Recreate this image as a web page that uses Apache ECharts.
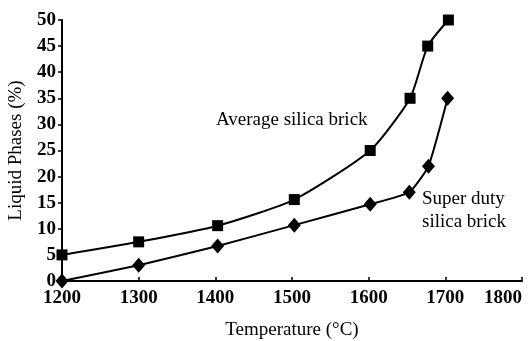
<!DOCTYPE html>
<html>
<head>
<meta charset="utf-8">
<script src="https://cdn.jsdelivr.net/npm/echarts@6/dist/echarts.min.js"></script>
<style>
html,body{margin:0;padding:0;background:#fff;}
#c{width:531px;height:341px;}
</style>
</head>
<body>
<div id="c"></div>
<script>
const avgTemps = [1200, 1300, 1403, 1503, 1602, 1654, 1677, 1704];
const avgValues = [5, 7.5, 10.6, 15.6, 25, 35, 45, 50];
const superTemps = [1200, 1300, 1403, 1503, 1602, 1653, 1678, 1703];
const superValues = [0, 3, 6.7, 10.7, 14.7, 17, 22, 35];
const xTicks = [1200, 1300, 1400, 1500, 1600, 1700, 1800];
const yTicks = [0, 5, 10, 15, 20, 25, 30, 35, 40, 45, 50];
const avgLabel = 'Average silica brick';
const superLabel = ['Super duty', 'silica brick'];

const FONT = '"Liberation Serif", "Times New Roman", serif';
const chart = echarts.init(document.getElementById('c'), null, {renderer: 'canvas'});
const pair = (xs, ys) => xs.map((x, i) => [x, ys[i]]);

chart.setOption({
  animation: false,
  backgroundColor: '#fff',
  grid: {left: 62, right: 9, top: 20, bottom: 60, containLabel: false, outerBoundsMode: 'none'},
  xAxis: {
    type: 'value',
    min: xTicks[0], max: xTicks[xTicks.length - 1], interval: 100,
    name: 'Temperature (°C)',
    nameLocation: 'middle', nameGap: 40,
    nameTextStyle: {fontFamily: FONT, fontSize: 19, color: '#000'},
    axisLine: {lineStyle: {color: '#000', width: 2}},
    axisTick: {inside: true, length: 4, lineStyle: {color: '#000', width: 1.5}},
    axisLabel: {fontFamily: FONT, fontSize: 19, fontWeight: 'bold', color: '#000', margin: 8,
                alignMaxLabel: 'right', formatter: v => String(v)},
    splitLine: {show: false}
  },
  yAxis: {
    type: 'value',
    min: yTicks[0], max: yTicks[yTicks.length - 1], interval: 5,
    name: 'Liquid Phases (%)',
    nameLocation: 'middle', nameGap: 36,
    nameTextStyle: {fontFamily: FONT, fontSize: 19, color: '#000'},
    axisLine: {show: true, lineStyle: {color: '#000', width: 2}},
    axisTick: {show: true, length: 4, lineStyle: {color: '#000', width: 1.5}},
    axisLabel: {fontFamily: FONT, fontSize: 19, fontWeight: 'bold', color: '#000', margin: 6,
                formatter: v => String(v)},
    splitLine: {show: false}
  },
  series: [
    {
      name: 'Average silica brick',
      type: 'line',
      data: pair(avgTemps, avgValues),
      smooth: 0.2,
      symbol: 'rect', symbolSize: 11,
      lineStyle: {color: '#000', width: 2},
      itemStyle: {color: '#000'}
    },
    {
      name: 'Super duty silica brick',
      type: 'line',
      data: pair(superTemps, superValues),
      smooth: 0.15,
      symbol: 'diamond', symbolSize: [13, 15],
      lineStyle: {color: '#000', width: 2},
      itemStyle: {color: '#000'}
    }
  ],
  graphic: [
    {type: 'text', left: 216, top: 111,
     style: {text: avgLabel, font: '19px ' + FONT, fill: '#000'}},
    {type: 'text', left: 422, top: 188,
     style: {text: superLabel.join('\n'), font: '19px ' + FONT, fill: '#000', lineHeight: 23}}
  ]
});
</script>
</body>
</html>
